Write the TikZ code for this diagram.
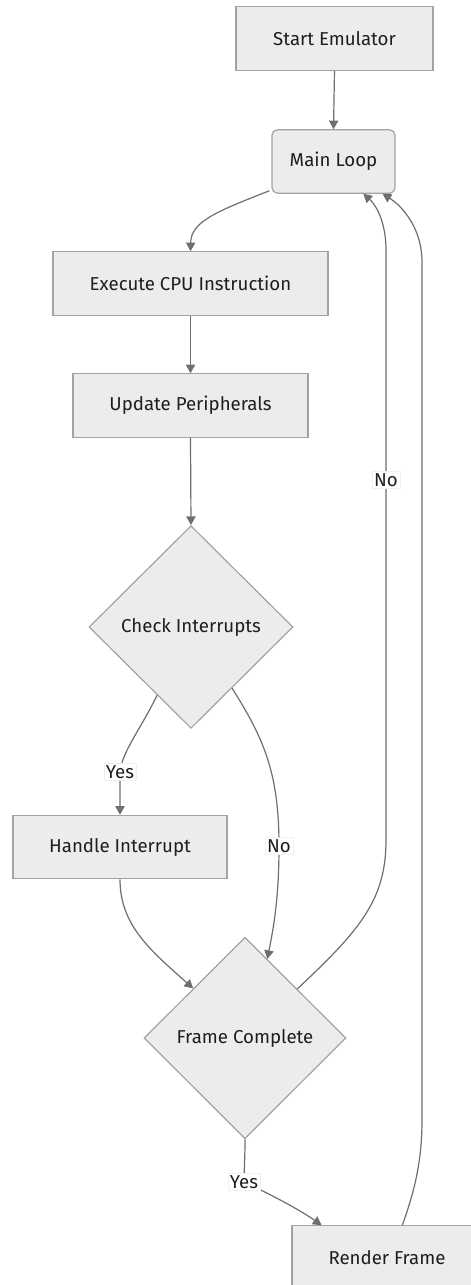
\documentclass[tikz,border=0pt]{standalone}
\usepackage{fontspec}
\setmainfont{Fira Sans}
\usetikzlibrary{shapes.geometric,arrows.meta,calc}

\definecolor{boxfill}{HTML}{ECECEC}
\definecolor{boxline}{HTML}{A3A3A3}
\definecolor{linkline}{HTML}{6E6E6E}
\definecolor{textcol}{HTML}{1E1E1E}

\tikzset{
  base/.style={fill=boxfill, draw=boxline, line width=0.9pt, text=textcol,
               font=\fontsize{14}{16}\selectfont, inner sep=0pt},
  procbox/.style={base, rectangle, minimum height=47.5pt},
  loopbox/.style={procbox, rounded corners=4pt},
  decision/.style={base, diamond, aspect=1},
  link/.style={draw=linkline, line width=0.9pt,
               -{Triangle[length=6.5pt,width=7pt]}},
  edgelabel/.style={fill=white, draw=gray!12, line width=0.3pt, text=textcol,
                    font=\fontsize{14}{16}\selectfont, inner sep=1.5pt}
}

\begin{document}
\begin{tikzpicture}[x=0.75pt, y=-0.75pt]
  \useasboundingbox (0,0) rectangle (471,1285);
  \clip (0,0) rectangle (471,1285);

  % process steps
  \node[procbox, minimum width=147.75pt] (start)  at (334.5,38.5)  {Start Emulator};
  \node[loopbox, minimum width=92.25pt]  (loop)   at (333.5,161.5) {Main Loop};
  \node[procbox, minimum width=206.25pt] (exec)   at (190.5,283.5) {Execute CPU Instruction};
  \node[procbox, minimum width=176.25pt] (upd)    at (190.5,405.5) {Update Peripherals};
  \node[decision, minimum width=153pt, minimum height=152pt] (check) at (191,627) {Check Interrupts};
  \node[procbox, minimum width=160.5pt]  (handle) at (120,847)     {Handle Interrupt};
  \node[decision, minimum width=151.5pt, minimum height=151pt] (frame) at (245,1038) {Frame Complete};
  \node[procbox, minimum width=142.5pt]  (render) at (387,1257.5)  {Render Frame};

  % straight links
  \draw[link] (start.south) -- (loop.north);
  \draw[link] (exec.south) -- (upd.north);
  \draw[link] (upd.south) -- (check.north);

  % main loop into the CPU step
  \draw[link] ($(loop.south west)+(-2,-3)$)
      .. controls (215,212) and (191,222) .. (exec.north);

  % interrupt branch
  \draw[link] ($(check.west)!0.67!(check.south)$)
      .. controls (140,730) and (122,752) .. (120,772) node[edgelabel] (lyes1) {Yes}
      .. controls (120,790) and (120,800) .. (handle.north);

  \draw[link] ($(check.east)!0.6!(check.south)$)
      .. controls (265,740) and (279,775) .. (279,846) node[edgelabel] (lno1) {No}
      .. controls (279,900) and (273,930) .. ($(frame.north)!0.22!(frame.east)$);

  \draw[link] (handle.south)
      .. controls (120,925) and (150,950) .. ($(frame.west)!0.49!(frame.north)$);

  % frame not complete: back to the main loop
  \draw[link] ($(frame.north)!0.515!(frame.east)$)
      .. controls (360,930) and (386,900) .. (386,840)
      -- (386,480) node[edgelabel] (lno2) {No}
      -- (386,250)
      .. controls (386,222) and (376,205) .. ($(loop.south west)!0.74!(loop.south east)$);

  % frame complete: render it
  \draw[link] (frame.south)
      .. controls (245,1160) and (244,1170) .. (244,1182) node[edgelabel] (lyes2) {Yes}
      .. controls (272,1195) and (300,1210) .. ($(render.north west)!0.158!(render.north east)$);

  % after rendering: back to the main loop
  \draw[link] ($(render.north west)!0.58!(render.north east)$)
      .. controls (415,1190) and (422,1160) .. (422,1120)
      -- (422,262)
      .. controls (422,228) and (402,206) .. ($(loop.south west)!0.895!(loop.south east)$);
\end{tikzpicture}
\end{document}
